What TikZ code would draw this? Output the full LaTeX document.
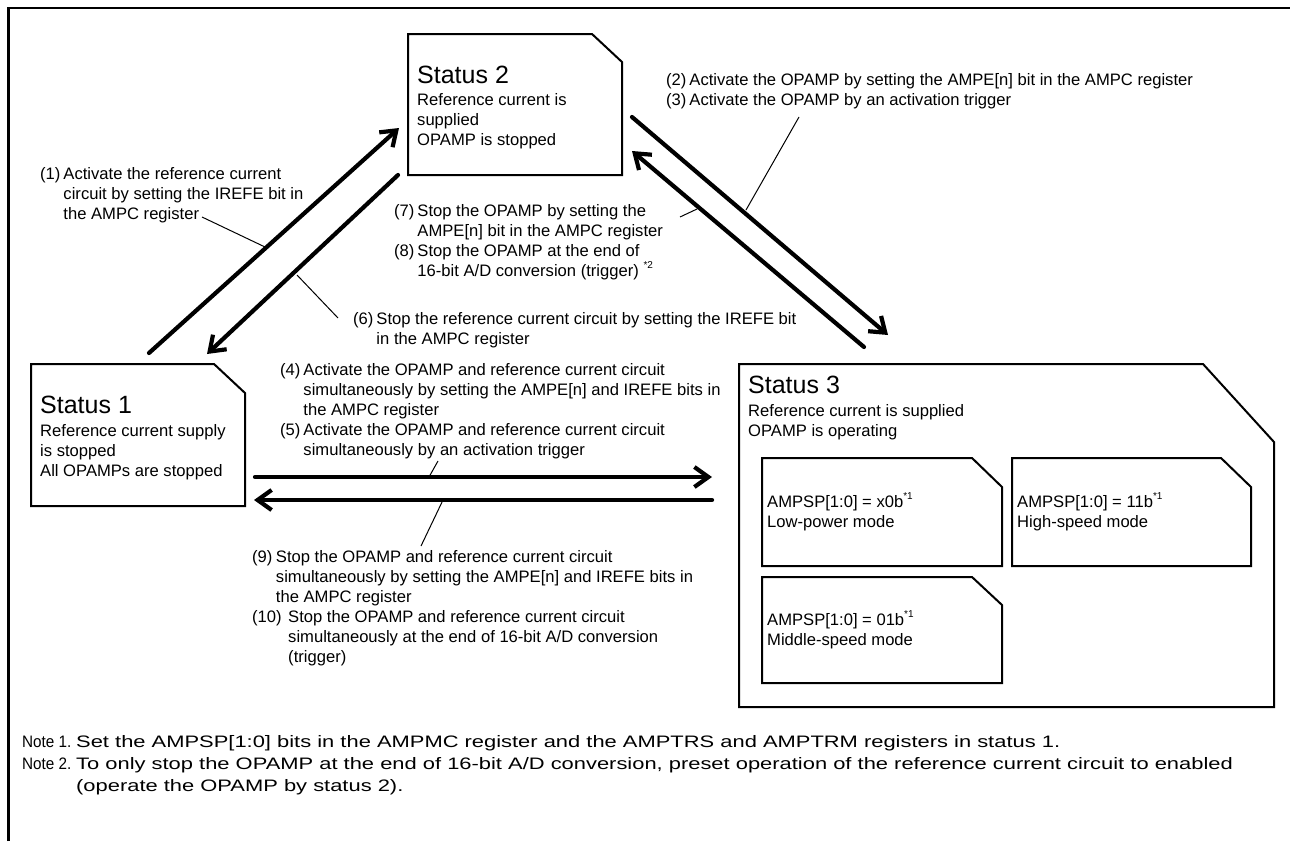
\documentclass[tikz,border=0pt]{standalone}
\usepackage{fontspec}
\setmainfont{Liberation Sans}
\usetikzlibrary{arrows.meta}
\newcommand{\bodysize}{\fontsize{16.6}{20}\selectfont}
\newcommand{\headsize}{\fontsize{25}{30}\selectfont}
\newcommand{\notesize}{\fontsize{16.6}{22}\selectfont}
\newcommand{\supr}[1]{\raisebox{8pt}{\fontsize{10}{10}\selectfont #1}}
\begin{document}
\begin{tikzpicture}[x=1pt,y=-1pt,
  frame/.style={line width=2.5pt},
  box/.style={line width=2pt, line join=miter},
  arr/.style={line width=4.2pt, line cap=round, -{Straight Barb[length=14pt,width=20pt]}},
  lead/.style={line width=1pt},
  txt/.style={inner sep=0pt, anchor=base west, font=\bodysize},
  head/.style={inner sep=0pt, anchor=base west, font=\headsize},
  note/.style={inner sep=0pt, anchor=base west, font=\notesize}]
\useasboundingbox (0,0) rectangle (1290,841);
% outer frame
\draw[frame] (8.5,841) -- (8.5,8) -- (1290,8);
% status boxes
\draw[box] (31,364) -- (214,364) -- (245,393) -- (245,506) -- (31,506) -- cycle;
\draw[box] (408,34) -- (592,34) -- (622,62) -- (622,175) -- (408,175) -- cycle;
\draw[box] (739,364) -- (1203,364) -- (1274,442) -- (1274,707) -- (739,707) -- cycle;
\draw[box] (762,458) -- (972,458) -- (1002,487) -- (1002,566) -- (762,566) -- cycle;
\draw[box] (1012,458) -- (1221,458) -- (1251,487) -- (1251,566) -- (1012,566) -- cycle;
\draw[box] (762,577) -- (972,577) -- (1002,605) -- (1002,683) -- (762,683) -- cycle;
% status texts
\node[head] (s1h) at (40,413) {Status 1};
\node[txt] (s1b) at (40,436) {\begin{tabular}[t]{@{}l@{}}Reference current supply\\ is stopped\\ All OPAMPs are stopped\end{tabular}};
\node[head] (s2h) at (417,83) {Status 2};
\node[txt] (s2b) at (417,105) {\begin{tabular}[t]{@{}l@{}}Reference current is\\ supplied\\ OPAMP is stopped\end{tabular}};
\node[head] (s3h) at (748,393) {Status 3};
\node[txt] (s3b) at (748,416) {\begin{tabular}[t]{@{}l@{}}Reference current is supplied\\ OPAMP is operating\end{tabular}};
\node[txt] (lp) at (767,507) {\begin{tabular}[t]{@{}l@{}}AMPSP[1:0] = x0b\supr{*1}\\ Low-power mode\end{tabular}};
\node[txt] (hs) at (1017,507) {\begin{tabular}[t]{@{}l@{}}AMPSP[1:0] = 11b\supr{*1}\\ High-speed mode\end{tabular}};
\node[txt] (ms) at (767,625) {\begin{tabular}[t]{@{}l@{}}AMPSP[1:0] = 01b\supr{*1}\\ Middle-speed mode\end{tabular}};
% arrow end points
\coordinate (a1s) at (149,353); \coordinate (a1e) at (399,128);
\coordinate (a6s) at (398,175); \coordinate (a6e) at (207,354);
\coordinate (a2s) at (632,117); \coordinate (a2e) at (888,335);
\coordinate (a7s) at (864,347); \coordinate (a7e) at (632,151);
\coordinate (a4s) at (255,477); \coordinate (a4e) at (712,477);
\coordinate (a9s) at (712,500); \coordinate (a9e) at (254,500);
\draw[arr] (a1s) -- (a1e);
\draw[arr] (a6s) -- (a6e);
\draw[arr] (a2s) -- (a2e);
\draw[arr] (a7s) -- (a7e);
\draw[arr] (a4s) -- (a4e);
\draw[arr] (a9s) -- (a9e);
% labels
\node[txt] (l1) at (40,179) {\begin{tabular}[t]{@{}l@{\hspace{3pt}}l@{}}(1) & Activate the reference current\\ & circuit by setting the IREFE bit in\\ & the AMPC register\end{tabular}};
\node[txt] (l2) at (666,85) {\begin{tabular}[t]{@{}l@{\hspace{3pt}}l@{}}(2) & Activate the OPAMP by setting the AMPE[n] bit in the AMPC register\\ (3) & Activate the OPAMP by an activation trigger\end{tabular}};
\node[txt] (l7) at (394,216) {\begin{tabular}[t]{@{}l@{\hspace{3pt}}l@{}}(7) & Stop the OPAMP by setting the\\ & AMPE[n] bit in the AMPC register\\ (8) & Stop the OPAMP at the end of\\ & 16-bit A/D conversion (trigger) \supr{*2}\end{tabular}};
\node[txt] (l6) at (353,324) {\begin{tabular}[t]{@{}l@{\hspace{3pt}}l@{}}(6) & Stop the reference current circuit by setting the IREFE bit\\ & in the AMPC register\end{tabular}};
\node[txt] (l4) at (280,375) {\begin{tabular}[t]{@{}l@{\hspace{3pt}}l@{}}(4) & Activate the OPAMP and reference current circuit\\ & simultaneously by setting the AMPE[n] and IREFE bits in\\ & the AMPC register\\ (5) & Activate the OPAMP and reference current circuit\\ & simultaneously by an activation trigger\end{tabular}};
\node[txt] (l9) at (252,562) {\begin{tabular}[t]{@{}l@{\hspace{3.5pt}}l@{}}(9) & Stop the OPAMP and reference current circuit\\ & simultaneously by setting the AMPE[n] and IREFE bits in\\ & the AMPC register\end{tabular}};
\node[txt] (l10) at (252,622) {\begin{tabular}[t]{@{}l@{\hspace{6.5pt}}l@{}}(10) & Stop the OPAMP and reference current circuit\\ & simultaneously at the end of 16-bit A/D conversion\\ & (trigger)\end{tabular}};
% leader lines
\coordinate (c1a) at (202,217); \coordinate (c1b) at (265,247);
\coordinate (c6a) at (338,318); \coordinate (c6b) at (297,275);
\coordinate (c2a) at (799,117); \coordinate (c2b) at (746,210);
\coordinate (c7a) at (680,217); \coordinate (c7b) at (697,209);
\coordinate (c5a) at (438,461); \coordinate (c5b) at (429,477);
\coordinate (c9a) at (421,546); \coordinate (c9b) at (443,500);
\draw[lead] (c1a) -- (c1b);
\draw[lead] (c6a) -- (c6b);
\draw[lead] (c2a) -- (c2b);
\draw[lead] (c7a) -- (c7b);
\draw[lead] (c5a) -- (c5b);
\draw[lead] (c9a) -- (c9b);
% notes
\node[note] (n1) at (22,747) {\scalebox{0.92}[1]{Note 1.}};
\node[note] (n2) at (22,769) {\scalebox{0.92}[1]{Note 2.}};
\node[note] (n1t) at (76,747) {\scalebox{1.32}[1]{Set the AMPSP[1:0] bits in the AMPMC register and the AMPTRS and AMPTRM registers in status 1.}};
\node[note] (n2t) at (76,769) {\scalebox{1.32}[1]{\begin{tabular}[t]{@{}l@{}}To only stop the OPAMP at the end of 16-bit A/D conversion, preset operation of the reference current circuit to enabled\\ (operate the OPAMP by status 2).\end{tabular}}};
\end{tikzpicture}
\end{document}
